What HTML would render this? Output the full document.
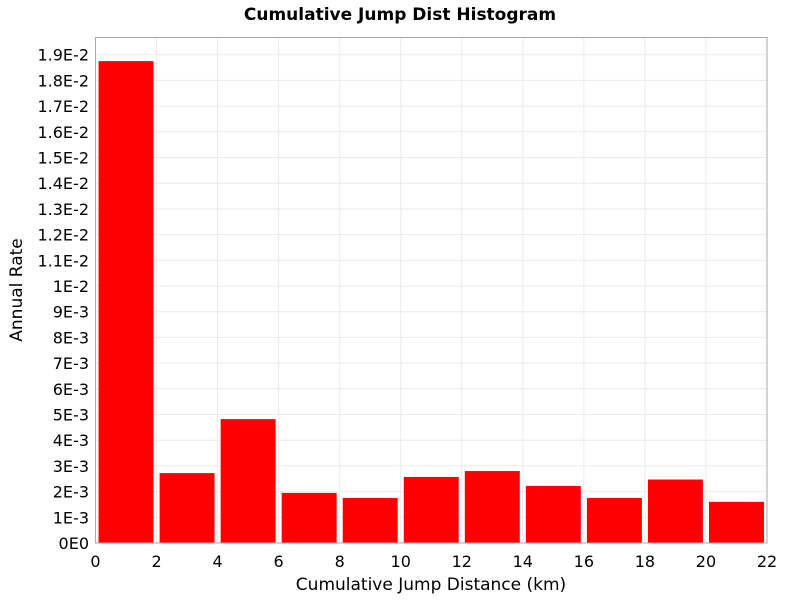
<!DOCTYPE html>
<html><head><meta charset="utf-8"><style>
body{margin:0;background:#fff;}
svg text{font-family:"DejaVu Sans","Liberation Sans",sans-serif;}
</style></head><body>
<svg id="c" width="800" height="600">
<text x="400" y="20" text-anchor="middle" font-size="17" font-weight="bold">Cumulative Jump Dist Histogram</text>
<g id="grid"></g><g id="bars"></g><g id="axes"></g>
<text x="431" y="590" text-anchor="middle" font-size="17">Cumulative Jump Distance (km)</text>
<text transform="translate(22,290) rotate(-90)" text-anchor="middle" font-size="17">Annual Rate</text>
</svg>
<script>
const binStarts=[0,2,4,6,8,10,12,14,16,18,20];
const binWidth=2;
const rates=[0.01875,0.00272,0.00482,0.00195,0.00175,0.00257,0.0028,0.00222,0.00175,0.00247,0.0016];
const xTicks=[0,2,4,6,8,10,12,14,16,18,20,22];
const yTicks=[0,0.001,0.002,0.003,0.004,0.005,0.006,0.007,0.008,0.009,0.01,0.011,0.012,0.013,0.014,0.015,0.016,0.017,0.018,0.019];
const yLabels=["0E0","1E-3","2E-3","3E-3","4E-3","5E-3","6E-3","7E-3","8E-3","9E-3","1E-2","1.1E-2","1.2E-2","1.3E-2","1.4E-2","1.5E-2","1.6E-2","1.7E-2","1.8E-2","1.9E-2"];
const L=95.5,R=767,T=37.5,B=543;
const xs=v=>L+(v/22)*(R-L);
const ys=v=>B-v/0.001*25.7;
const NS="http://www.w3.org/2000/svg";
function mk(p,t,a){const e=document.createElementNS(NS,t);for(const k in a)e.setAttribute(k,a[k]);p.appendChild(e);return e;}
const g=document.getElementById('grid'),b=document.getElementById('bars'),ax=document.getElementById('axes');
xTicks.forEach((v,i)=>{
 const l=mk(g,'line',{x1:xs(v),x2:xs(v),y1:T,y2:B,stroke:'#ebebeb'});
 
 
 const t=mk(ax,'text',{x:xs(v),y:567,'text-anchor':'middle','font-size':'16'});t.textContent=v;
 
 
});
yTicks.forEach((v,i)=>{
 const l=mk(g,'line',{x1:L,x2:R,y1:ys(v),y2:ys(v),stroke:'#ebebeb'});
 
 
 const t=mk(ax,'text',{x:89,y:ys(v)+6,'text-anchor':'end','font-size':'16'});t.textContent=yLabels[i];
 
 
});
rates.forEach((r,i)=>{
 const c=xs(binStarts[i]+binWidth/2),w=(xs(binWidth)-xs(0))*0.9;
 const rc=mk(b,'rect',{x:c-w/2,y:ys(r),width:w,height:B-ys(r),fill:'#ff0000'});
 
 
});
const fr=mk(ax,'rect',{x:L,y:T,width:R-L,height:B-T,fill:'none',stroke:'#aaa'});


</script>
</body></html>
